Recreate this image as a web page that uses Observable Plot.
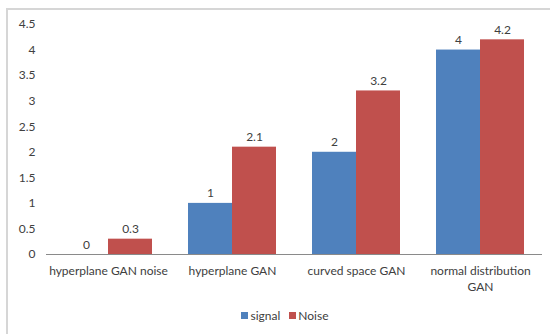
<!DOCTYPE html>
<html>
<head>
<meta charset="utf-8">
<script src="https://cdn.jsdelivr.net/npm/d3@7"></script>
<script src="https://cdn.jsdelivr.net/npm/@observablehq/plot@0.6"></script>
<style>
  html, body { margin: 0; padding: 0; background: #fff; }
  #wrap { position: relative; width: 550px; height: 334px; overflow: hidden; font-family: Lato, "Open Sans", sans-serif; }
  #frame { position: absolute; left: 6px; top: 8px; width: 560px; height: 340px;
           border-left: 2px solid #d6d6d6; border-top: 2px solid #d6d6d6; box-sizing: border-box; }
  #chart { position: absolute; left: 0; top: 0; }
  #legend { position: absolute; left: 0; width: 570px; top: 308px; display: flex; justify-content: center;
            gap: 9px; font-size: 12px; color: #404040; }
  #legend span { display: inline-flex; align-items: center; gap: 2px; }
  #legend i { display: inline-block; width: 7px; height: 7px; }
</style>
</head>
<body>
<div id="wrap">
  <div id="frame"></div>
  <div id="chart"></div>
  <div id="legend"></div>
</div>
<script>
// Category names along the bottom and their printed (wrapped) labels
const categories = ["hyperplane GAN noise", "hyperplane GAN", "curved space GAN", "normal distribution GAN"];
const categoryLabels = ["hyperplane GAN noise", "hyperplane GAN", "curved space GAN", "normal distribution\nGAN"];
const series = ["signal", "Noise"];
const signalValues = [0, 1, 2, 4];
const noiseValues = [0.3, 2.1, 3.2, 4.2];
const yTicks = [0, 0.5, 1, 1.5, 2, 2.5, 3, 3.5, 4, 4.5];
const seriesColors = ["#4F81BD", "#C0504D"];

const rows = categories.flatMap((category, i) => [
  {category, series: series[0], value: signalValues[i]},
  {category, series: series[1], value: noiseValues[i]}
]);

const chart = Plot.plot({
  width: 550,
  height: 300,
  marginTop: 24,
  marginBottom: 46,
  marginLeft: 45,
  marginRight: 8,
  style: {fontFamily: "Lato, 'Open Sans', sans-serif", fontSize: "12px", color: "#404040", background: "transparent"},
  fx: {domain: categories, padding: 0, label: null, axis: null},
  x: {domain: series, paddingInner: 0, paddingOuter: 0.378, axis: null},
  y: {domain: [0, 4.5], axis: null},
  color: {domain: series, range: seriesColors},
  marks: [
    Plot.barY(rows, {fx: "category", x: "series", y: "value", fill: "series"}),
    Plot.ruleY([0], {stroke: "#8a8a8a"}),
    Plot.text(rows, {fx: "category", x: "series", y: "value", text: d => String(d.value),
      lineAnchor: "bottom", dy: -6, fill: "#404040", fontSize: 12}),
    Plot.axisY({ticks: yTicks, tickSize: 0, tickPadding: 11, tickFormat: d => String(d),
      label: null, fill: "#404040", fontSize: 12}),
    Plot.ruleX([categories[0]], {fx: d => d, y1: 0, y2: 4.5, frameAnchor: "left", stroke: "#8a8a8a"}),
    Plot.axisFx({anchor: "bottom", tickSize: 0, tickPadding: 9, label: null, lineHeight: 1.35,
      tickFormat: d => categoryLabels[categories.indexOf(d)], fill: "#404040", fontSize: 12})
  ]
});
document.getElementById("chart").appendChild(chart);

const legend = document.getElementById("legend");
series.forEach((s, i) => {
  const item = document.createElement("span");
  const sw = document.createElement("i");
  sw.style.background = seriesColors[i];
  item.appendChild(sw);
  item.appendChild(document.createTextNode(s));
  legend.appendChild(item);
});
</script>
</body>
</html>
